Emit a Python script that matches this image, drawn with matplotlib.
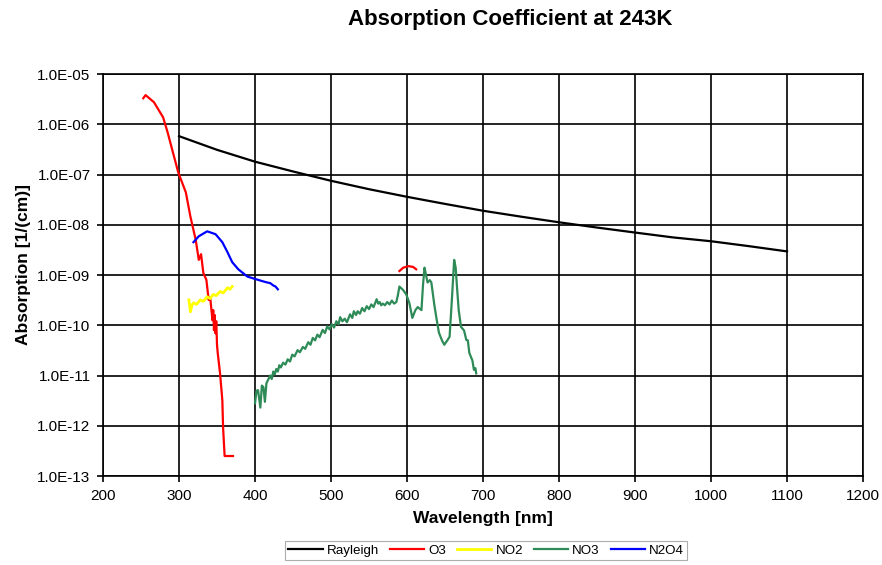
import matplotlib
matplotlib.use("Agg")
import matplotlib.pyplot as plt
import numpy as np

plt.rcParams['font.family'] = ['Liberation Sans', 'DejaVu Sans']

# Rayleigh scattering
rayleigh_x = [300, 350, 400, 450, 500, 550, 600, 650, 700, 750, 800, 850, 900, 950, 1000, 1050, 1100]
rayleigh_y = [5.8e-7, 3.1e-7, 1.8e-7, 1.15e-7, 7.5e-8, 5.1e-8, 3.6e-8, 2.6e-8, 1.9e-8, 1.45e-8,
              1.12e-8, 8.8e-9, 7.0e-9, 5.6e-9, 4.7e-9, 3.75e-9, 2.95e-9]

# O3 (Hartley/Huggins + Chappuis, gap between)
o3_x = [253, 256, 267, 279, 285, 292, 299, 309, 315, 322, 326, 329, 332, 336, 339, 341, 344, 345,
        346, 347, 348, 349, 350, 351, 354, 357, 358, 360, 371,
        np.nan,
        590, 595, 602, 608, 612]
o3_y = [3.3e-6, 3.8e-6, 2.75e-6, 1.38e-6, 6.9e-7, 2.75e-7, 1.1e-7, 4.4e-8, 1.45e-8, 5.0e-9, 2.0e-9,
        2.6e-9, 1.1e-9, 8.0e-10, 3.2e-10, 3.6e-10, 1.26e-10, 2.0e-10, 8e-11, 1.6e-10, 6.9e-11,
        1.2e-10, 4e-11, 2.75e-11, 1.1e-11, 3.2e-12, 9.1e-13, 2.5e-13, 2.5e-13,
        np.nan,
        1.2e-9, 1.4e-9, 1.5e-9, 1.45e-9, 1.3e-9]

# NO2
no2_x = [313, 315, 317, 319, 323, 328, 332, 337, 341, 345, 349, 354, 358, 364, 367, 370]
no2_y = [3.2e-10, 1.86e-10, 2.5e-10, 2.8e-10, 2.6e-10, 3.2e-10, 3.0e-10, 3.7e-10, 3.4e-10,
         4.1e-10, 3.9e-10, 4.7e-10, 4.4e-10, 5.6e-10, 5.2e-10, 5.9e-10]

# NO3
no3_x = [400, 402, 404, 407, 409, 411, 413, 415, 417, 420, 422, 424, 426, 428, 430, 432, 434, 437,
         440, 443, 446, 449, 452, 456, 459, 463, 466, 470, 473, 476, 479, 482, 485, 489, 492, 495,
         498, 501, 504, 507, 510, 512, 515, 518, 521, 525, 528, 530, 533, 535, 538, 541, 544, 547,
         550, 553, 556, 560, 562, 564, 566, 568, 571, 574, 577, 580, 583, 586, 588, 590, 595, 599,
         603, 607, 611, 614, 619, 621, 623, 625, 627, 630, 632, 636, 639, 642, 646, 649, 653, 656,
         659, 662, 664, 666, 668, 671, 675, 678, 680, 682, 686, 688, 690, 691]
no3_y = [2.8e-12, 5e-12, 5.1e-12, 2.3e-12, 6.3e-12, 5.9e-12, 3.0e-12, 7e-12, 8.1e-12, 1.0e-11,
         8.5e-12, 1.2e-11, 1.05e-11, 1.35e-11, 1.2e-11, 1.6e-11, 1.45e-11, 1.8e-11, 1.65e-11,
         2.1e-11, 1.9e-11, 2.6e-11, 2.4e-11, 3.2e-11, 2.9e-11, 3.7e-11, 3.4e-11, 4.6e-11, 4.1e-11,
         5.6e-11, 5.0e-11, 6.5e-11, 5.8e-11, 8.1e-11, 7.0e-11, 9.5e-11, 8.3e-11, 1.05e-10, 9.0e-11,
         1.2e-10, 1.05e-10, 1.45e-10, 1.2e-10, 1.35e-10, 1.15e-10, 1.65e-10, 1.4e-10, 1.9e-10,
         1.6e-10, 1.9e-10, 1.7e-10, 2.2e-10, 1.9e-10, 2.4e-10, 2.1e-10, 2.6e-10, 2.3e-10, 3.3e-10,
         2.7e-10, 2.9e-10, 2.5e-10, 2.7e-10, 2.5e-10, 2.9e-10, 2.6e-10, 3.1e-10, 2.7e-10, 2.9e-10,
         4e-10, 5.9e-10, 5e-10, 4.1e-10, 2.8e-10, 1.4e-10, 2e-10, 2.3e-10, 2.0e-10, 6.3e-10, 1.4e-9,
         1.0e-9, 7.1e-10, 7.9e-10, 7.1e-10, 2.5e-10, 1.3e-10, 7.1e-11, 5e-11, 4.1e-11, 5e-11, 5.9e-11,
         3.2e-10, 2.0e-9, 1.4e-9, 5.1e-10, 2e-10, 9.3e-11, 7.9e-11, 5.1e-11, 5e-11, 2.8e-11, 2.0e-11,
         1.3e-11, 1.4e-11, 1.1e-11]

# N2O4
n2o4_x = [319, 326, 337, 348, 357, 364, 370, 378, 390, 403, 409, 416, 420, 424, 427, 430]
n2o4_y = [4.5e-9, 5.9e-9, 7.4e-9, 6.5e-9, 4.5e-9, 2.8e-9, 1.8e-9, 1.3e-9, 9.3e-10, 8.1e-10,
          7.6e-10, 7.1e-10, 6.9e-10, 6.2e-10, 5.9e-10, 5.2e-10]

xticks = [200, 300, 400, 500, 600, 700, 800, 900, 1000, 1100, 1200]
yticks = [1e-13, 1e-12, 1e-11, 1e-10, 1e-9, 1e-8, 1e-7, 1e-6, 1e-5]
ytick_labels = ['1.0E-13', '1.0E-12', '1.0E-11', '1.0E-10', '1.0E-09',
                '1.0E-08', '1.0E-07', '1.0E-06', '1.0E-05']

fig = plt.figure(figsize=(8.82, 5.65), dpi=100)
ax = fig.add_axes([0.1168, 0.1575, 0.8617, 0.7115])

lw = 1.6
ax.plot(rayleigh_x, rayleigh_y, color='black', lw=lw, label='Rayleigh')
ax.plot(o3_x, o3_y, color='#ff0000', lw=lw, label='O3')
ax.plot(no2_x, no2_y, color='#ffff00', lw=lw + 0.4, label='NO2')
ax.plot(no3_x, no3_y, color='#2e8b57', lw=lw, label='NO3')
ax.plot(n2o4_x, n2o4_y, color='#0000ff', lw=lw, label='N2O4')

ax.set_yscale('log')
ax.set_xlim(200, 1200)
ax.set_ylim(1e-13, 1e-5)
ax.set_xticks(xticks)
ax.set_yticks(yticks)
ax.set_yticklabels(ytick_labels)
ax.minorticks_off()
ax.grid(True, color='black', lw=1.2)
ax.set_axisbelow(True)
for s in ax.spines.values():
    s.set_color('black')
    s.set_linewidth(1.2)
ax.tick_params(axis='both', which='major', labelsize=11, length=4, width=1.2,
               direction='out', colors='black', pad=5)

ax.set_xlabel('Wavelength [nm]', fontsize=12.5, fontweight='bold', labelpad=6)
ax.set_ylabel('Absorption [1/(cm)]', fontsize=12.5, fontweight='bold')
ax.yaxis.set_label_coords(-0.095, 0.525)
fig.text(0.578, 0.965, 'Absorption Coefficient at 243K', fontsize=16, fontweight='bold',
         ha='center', va='center')

leg = fig.legend(loc='center', bbox_to_anchor=(0.551, 0.025), ncol=5, fontsize=9.6,
                 frameon=True, fancybox=False, edgecolor='#999999', handlelength=2.6,
                 handletextpad=0.3, columnspacing=0.8, borderpad=0.25)
leg.get_frame().set_linewidth(0.8)

plt.savefig("out.png", dpi=100)
